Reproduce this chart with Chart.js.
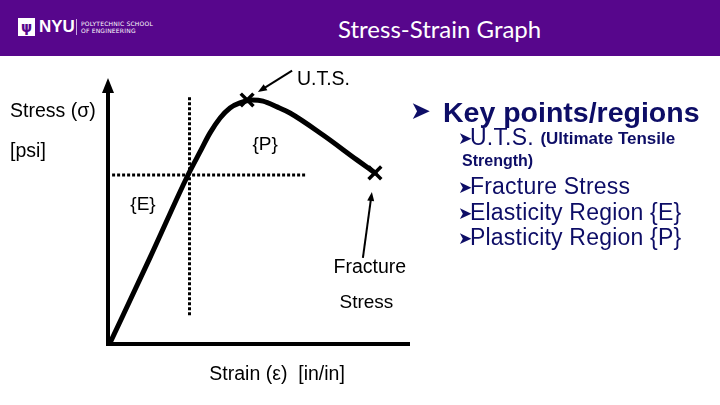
<!DOCTYPE html>
<html>
<head>
<meta charset="utf-8">
<script src="https://cdn.jsdelivr.net/npm/chart.js@4.4.1/dist/chart.umd.min.js"></script>
<style>
  html, body { margin: 0; padding: 0; background: #fff; }
  #slide { position: relative; width: 720px; height: 405px; overflow: hidden; font-family: "Liberation Sans", Arial, sans-serif; }
  #header { position: absolute; left: 0; top: 0; width: 720px; height: 56px; background: #57068c; }
  #title { position: absolute; left: 338px; top: 14px; color: #fff; font-family: Lato, sans-serif; font-size: 24px; white-space: nowrap; }
  #logoBox { position: absolute; left: 18px; top: 18px; width: 17px; height: 18px; background: #fff; color: #57068c; font: bold 14px "DejaVu Sans"; text-align: center; line-height: 18px; }
  #logoNyu { position: absolute; left: 39px; top: 17px; color: #fff; font: bold 17px "Liberation Sans", Arial; }
  #logoBar { position: absolute; left: 76px; top: 19px; width: 1px; height: 16px; background: #c9a7e0; }
  #logoSub { position: absolute; left: 81px; top: 21px; color: #fff; font: 6px/6.5px "DejaVu Sans"; letter-spacing: 0.2px; }
  #chart { position: absolute; left: 0; top: 0; }
  .key { position: absolute; color: #0d0d66; white-space: nowrap; line-height: 1; }
  .sub { font-size: 23px; letter-spacing: 0.2px; }
  .arr { font-family: "DejaVu Sans"; }
  .sa { display: inline-block; width: 12px; font-family: "DejaVu Sans"; font-size: 17px; vertical-align: 1px; letter-spacing: 0; }
</style>
</head>
<body>
<div id="slide">
  <div id="header">
    <div id="logoBox">ψ</div>
    <div id="logoNyu">NYU</div>
    <div id="logoBar"></div>
    <div id="logoSub">POLYTECHNIC SCHOOL<br>OF ENGINEERING</div>
    <div id="title">Stress-Strain Graph</div>
  </div>
  <canvas id="chart" width="720" height="405"></canvas>
  <div class="key arr" style="left:410px; top:98px; font-size:25px;">➤</div>
  <div class="key" style="left:443px; top:98px; font-size:28.5px; font-weight:bold;">Key points/regions</div>
  <div class="key sub" style="left:458px; top:126px;"><span class="sa">➤</span>U.T.S. <span style="font-size:17px; font-weight:bold; letter-spacing:0; vertical-align:1px;">(Ultimate Tensile</span></div>
  <div class="key" style="left:462px; top:153px; font-size:16px; font-weight:bold;">Strength)</div>
  <div class="key sub" style="left:458px; top:175px;"><span class="sa">➤</span>Fracture Stress</div>
  <div class="key sub" style="left:458px; top:201px;"><span class="sa">➤</span>Elasticity Region {E}</div>
  <div class="key sub" style="left:458px; top:226px;"><span class="sa">➤</span>Plasticity Region {P}</div>
</div>
<script>
// stress-strain curve (arbitrary units, 0..100 on both axes)
const strain = [0, 13.3, 26, 30, 33.3, 36.7, 40, 43.3, 47.3, 51, 55.7, 60, 71, 82.3, 88.3];
const stress = [0, 32.1, 63.4, 72.1, 79.2, 84.9, 88.7, 90.6, 91.7, 91.3, 89.1, 86.8, 78.5, 69.1, 64.2];

// U.T.S. and fracture points
const keyStrain = [45.7, 88.3];
const keyStress = [91.7, 64.2];

// dotted elastic limit guides
const limitLineX = [26.5, 26.5];
const limitLineY = [10.5, 93.5];
const limitStressX = [0.7, 65.5];
const limitStressY = [63.4, 63.4];

const zip = (xs, ys) => xs.map((x, i) => ({ x, y: ys[i] }));

// text on the graph, in data units
const labels = [
  { text: 'U.T.S.', x: 62.3, y: 99.4, size: 19.5, align: 'left' },
  { text: '{P}', x: 51.7, y: 74.7, size: 19, align: 'center' },
  { text: '{E}', x: 11, y: 52.1, size: 19, align: 'center' },
  { text: 'Fracture', x: 74.5, y: 28.3, size: 19.5, align: 'left' },
  { text: 'Stress', x: 76.5, y: 15.1, size: 19, align: 'left' },
  { text: 'Strain (ε)  [in/in]', x: 55.7, y: -12, size: 19.5, align: 'center' },
  { text: 'Stress (σ)', x: -33.3, y: 87.2, size: 19.5, align: 'left' },
  { text: '[psi]', x: -33.3, y: 72.1, size: 19.5, align: 'left' }
];
const pointers = [
  { from: [60.7, 102.8], to: [49.3, 94.7] },
  { from: [84.3, 32.1], to: [87.3, 57] }
];

function arrow(ctx, x1, y1, x2, y2) {
  const a = Math.atan2(y2 - y1, x2 - x1);
  ctx.beginPath();
  ctx.moveTo(x1, y1);
  ctx.lineTo(x2 - 5 * Math.cos(a), y2 - 5 * Math.sin(a));
  ctx.stroke();
  ctx.beginPath();
  ctx.moveTo(x2, y2);
  ctx.lineTo(x2 - 9 * Math.cos(a) + 3.5 * Math.sin(a), y2 - 9 * Math.sin(a) - 3.5 * Math.cos(a));
  ctx.lineTo(x2 - 9 * Math.cos(a) - 3.5 * Math.sin(a), y2 - 9 * Math.sin(a) + 3.5 * Math.cos(a));
  ctx.closePath();
  ctx.fill();
}

const overlay = {
  id: 'overlay',
  beforeDatasetsDraw(chart) {
    const { ctx, scales: { x, y } } = chart;
    const x0 = x.getPixelForValue(0) - 2, y0 = y.getPixelForValue(0) + 1;
    ctx.save();
    ctx.strokeStyle = '#000';
    ctx.fillStyle = '#000';
    ctx.lineWidth = 4;
    ctx.beginPath();
    ctx.moveTo(x0, y0 + 2);
    ctx.lineTo(x0, y.getPixelForValue(100) + 12);
    ctx.moveTo(x0 - 2, y0);
    ctx.lineTo(x.getPixelForValue(100), y0);
    ctx.stroke();
    const top = y.getPixelForValue(100);
    ctx.beginPath();
    ctx.moveTo(x0, top);
    ctx.lineTo(x0 - 6, top + 15);
    ctx.lineTo(x0 + 6, top + 15);
    ctx.closePath();
    ctx.fill();
    ctx.restore();
  },
  afterDatasetsDraw(chart) {
    const { ctx, scales: { x, y } } = chart;
    ctx.save();
    ctx.fillStyle = '#000';
    ctx.strokeStyle = '#000';
    ctx.lineWidth = 2;
    pointers.forEach(p => arrow(ctx,
      x.getPixelForValue(p.from[0]), y.getPixelForValue(p.from[1]),
      x.getPixelForValue(p.to[0]), y.getPixelForValue(p.to[1])));
    ctx.textBaseline = 'middle';
    labels.forEach(l => {
      ctx.font = `${l.size}px "Liberation Sans", Arial, sans-serif`;
      ctx.textAlign = l.align;
      ctx.fillText(l.text, x.getPixelForValue(l.x), y.getPixelForValue(l.y));
    });
    ctx.restore();
  }
};

new Chart(document.getElementById('chart'), {
  type: 'scatter',
  data: {
    datasets: [
      {
        data: zip(limitLineX, limitLineY), showLine: true, borderColor: '#000',
        borderWidth: 3, borderDash: [3, 2], pointRadius: 0
      },
      {
        data: zip(limitStressX, limitStressY), showLine: true, borderColor: '#000',
        borderWidth: 3, borderDash: [3, 2], pointRadius: 0
      },
      {
        data: zip(strain, stress), showLine: true, borderColor: '#000', borderWidth: 5,
        cubicInterpolationMode: 'monotone', pointRadius: 0, borderCapStyle: 'round'
      },
      {
        data: zip(keyStrain, keyStress), pointStyle: 'crossRot', pointRadius: 9,
        borderColor: '#000', borderWidth: 3.5
      }
    ]
  },
  options: {
    responsive: false,
    animation: false,
    clip: false,
    layout: { padding: { left: 110, right: 310, top: 78, bottom: 62 } },
    scales: {
      x: { type: 'linear', min: 0, max: 100, display: false },
      y: { type: 'linear', min: 0, max: 100, display: false }
    },
    plugins: { legend: { display: false }, tooltip: { enabled: false } }
  },
  plugins: [overlay]
});
</script>
</body>
</html>
